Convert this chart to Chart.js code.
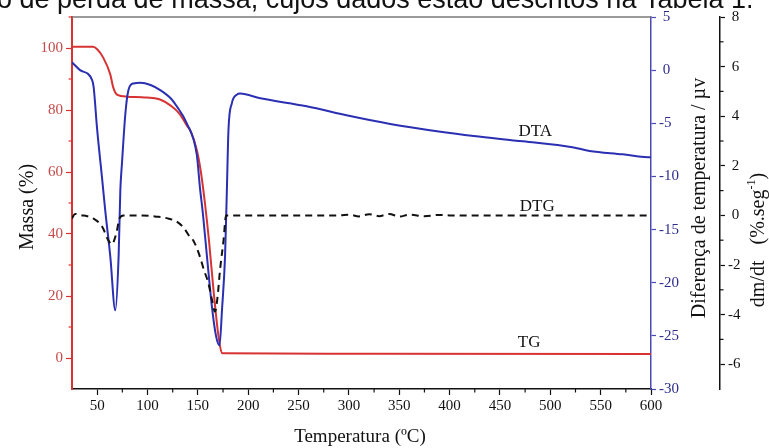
<!DOCTYPE html>
<html>
<head>
<meta charset="utf-8">
<script src="https://cdn.jsdelivr.net/npm/chart.js@4.4.1/dist/chart.umd.min.js"></script>
<style>
  html, body { margin: 0; padding: 0; background: #fff; }
  #wrap { width: 769px; height: 448px; position: relative; overflow: hidden; }
</style>
</head>
<body>
<div id="wrap"><canvas id="c" width="769" height="448"></canvas></div>
<script>
// TG - mass (%) vs temperature
var tgTemp = [25, 46, 50, 56, 63, 66, 70, 80, 99, 113, 123, 132, 139, 143, 149, 153, 157, 161, 165.5, 170.5, 174, 176, 300, 600];
var tgMass = [100.4, 100.4, 99.6, 96.9, 91.5, 87.2, 84.9, 84.3, 84.0, 83.3, 81.4, 78.7, 75, 73, 67, 60, 50, 38, 22, 7, 1.6, 1.5, 1.4, 1.3];

// DTA - temperature difference (uV)
var dtaTemp = [25, 33, 45, 46.5, 50, 55, 58, 63, 68, 71.3, 73, 74.6, 78, 81, 86, 93, 103, 113, 123, 129, 139, 149, 152, 155, 159, 164, 168, 171.5, 174, 177, 178.8, 180.4, 183.8, 188.8, 192, 212, 258, 300, 341, 391, 424, 473, 522, 539, 572, 597, 600];
var dtaVal = [0.74, 0.0, -0.93, -1.6, -5.6, -10.3, -13.2, -17.5, -22.6, -17.5, -11.3, -8.8, -4.1, -1.9, -1.25, -1.18, -1.4, -1.9, -2.65, -3.4, -5.0, -8, -11, -13.5, -17.5, -22.3, -25, -25.9, -22.5, -17.5, -11.3, -5.6, -3.1, -2.3, -2.2, -2.65, -3.4, -4.3, -5.07, -5.8, -6.2, -6.7, -7.26, -7.6, -7.92, -8.2, -8.2];

// DTG - dm/dt (%.seg-1)
var dtgTemp = [25, 28, 33, 46, 55, 61, 64.7, 66.5, 69.7, 72, 76, 95, 109, 120, 129, 136, 142, 146, 152, 156, 160.5, 164, 167, 169.5, 172, 175.5, 178, 200, 290, 300, 310, 320, 330, 340, 350, 360, 375, 390, 400, 600];
var dtgVal = [-0.12, 0.06, 0.02, -0.12, -0.46, -1.0, -1.17, -1.05, -0.6, -0.13, 0, 0, -0.05, -0.12, -0.25, -0.5, -0.86, -1.05, -1.66, -2.2, -2.74, -3.4, -3.88, -3.3, -2.2, -1.0, 0, 0, 0, 0.03, -0.04, 0.05, -0.03, 0.06, -0.05, 0.03, -0.03, 0.02, 0, 0];

// tick values
var xTicks = [50, 100, 150, 200, 250, 300, 350, 400, 450, 500, 550, 600];
var xMinor = [75, 125, 175, 225, 275, 325, 375, 425, 475, 525, 575];
var massTicks = [0, 20, 40, 60, 80, 100];
var massMinor = [10, 30, 50, 70, 90, 110];
var dtaTicks = [5, 0, -5, -10, -15, -20, -25, -30];
var dtgTicks = [8, 6, 4, 2, 0, -2, -4, -6];
var dtgMinor = [7, 5, 3, 1, -1, -3, -5];

// curve labels
var curveNames = ['DTA', 'DTG', 'TG'];
var curveAxis = ['yB', 'yK', 'yL'];
var curveT = [485, 487, 479];
var curveY = [-5.8, 0.34, 5.1];

var RED = '#d83232', BLUE = '#2b2fb2', SERIF = '"Liberation Serif", "Times New Roman", serif';

function pts(xs, ys) {
  return xs.map(function (x, i) { return { x: x, y: ys[i] }; });
}
function fixTicks(list) {
  return function (scale) { scale.ticks = list.map(function (v) { return { value: v }; }); };
}
function padPos(v) { return (v >= 0 ? ' ' : '') + v; }

var decor = {
  id: 'decor',
  afterDraw: function (chart) {
    var ctx = chart.ctx, a = chart.chartArea, s = chart.scales;
    ctx.save();

    // top frame line
    ctx.strokeStyle = '#7a7a7a';
    ctx.lineWidth = 1.5;
    ctx.beginPath(); ctx.moveTo(a.left, a.top); ctx.lineTo(a.right, a.top); ctx.stroke();

    // minor ticks
    ctx.lineWidth = 1.2;
    ctx.strokeStyle = '#111';
    xMinor.forEach(function (v) {
      var px = s.x.getPixelForValue(v);
      ctx.beginPath(); ctx.moveTo(px, a.bottom); ctx.lineTo(px, a.bottom + 3.5); ctx.stroke();
    });
    ctx.strokeStyle = RED;
    massMinor.forEach(function (v) {
      var py = s.yL.getPixelForValue(v);
      ctx.beginPath(); ctx.moveTo(a.left, py); ctx.lineTo(a.left - 3.5, py); ctx.stroke();
    });
    ctx.strokeStyle = '#111';
    dtgMinor.forEach(function (v) {
      var py = s.yK.getPixelForValue(v);
      ctx.beginPath(); ctx.moveTo(s.yK.left, py); ctx.lineTo(s.yK.left + 3.5, py); ctx.stroke();
    });

    // axis titles
    ctx.fillStyle = '#111';
    ctx.textAlign = 'center';
    ctx.textBaseline = 'middle';
    ctx.font = '19px ' + SERIF;
    ctx.fillText('Temperatura (ºC)', 360, 437);

    ctx.save();
    ctx.translate(28, 207);
    ctx.rotate(-Math.PI / 2);
    ctx.font = '20px ' + SERIF;
    ctx.fillText('Massa (%)', 0, 0);
    ctx.restore();

    ctx.save();
    ctx.translate(700, 198);
    ctx.rotate(-Math.PI / 2);
    ctx.font = '20px ' + SERIF;
    ctx.fillText('Diferença de temperatura / µv', 0, 0);
    ctx.restore();

    // dm/dt title with superscript
    ctx.save();
    ctx.translate(759, 240);
    ctx.rotate(-Math.PI / 2);
    ctx.textAlign = 'left';
    var big = '20px ' + SERIF, small = '12px ' + SERIF;
    var p0 = 'dm/dt', p1 = '(%.seg', p2 = '-1', p3 = ')', gap = 16;
    ctx.font = big;
    var w0 = ctx.measureText(p0).width, w1 = ctx.measureText(p1).width, w3 = ctx.measureText(p3).width;
    ctx.font = small; var w2 = ctx.measureText(p2).width;
    var x0 = -(w0 + gap + w1 + w2 + w3) / 2;
    ctx.font = big; ctx.fillText(p0, x0, 0);
    x0 += w0 + gap;
    ctx.fillText(p1, x0, 0);
    ctx.font = small; ctx.fillText(p2, x0 + w1, -7);
    ctx.font = big; ctx.fillText(p3, x0 + w1 + w2, 0);
    ctx.restore();

    // curve names
    ctx.font = '17px ' + SERIF;
    curveNames.forEach(function (n, i) {
      ctx.fillText(n, s.x.getPixelForValue(curveT[i]), s[curveAxis[i]].getPixelForValue(curveY[i]));
    });

    // cut-off caption line above the figure
    ctx.textAlign = 'left';
    ctx.textBaseline = 'alphabetic';
    ctx.font = '27px "Liberation Sans", Arial, sans-serif';
    ctx.fillText('o de perda de massa, cujos dados estão descritos na Tabela 1.', -3, 8);

    ctx.restore();
  }
};

new Chart(document.getElementById('c'), {
  type: 'line',
  data: {
    datasets: [
      { label: 'DTG', data: pts(dtgTemp, dtgVal), yAxisID: 'yK', borderColor: '#111', borderWidth: 2,
        borderDash: [7, 5], pointRadius: 0, cubicInterpolationMode: 'monotone', order: 0 },
      { label: 'DTA', data: pts(dtaTemp, dtaVal), yAxisID: 'yB', borderColor: BLUE, borderWidth: 2,
        pointRadius: 0, cubicInterpolationMode: 'monotone', order: 1 },
      { label: 'TG', data: pts(tgTemp, tgMass), yAxisID: 'yL', borderColor: RED, borderWidth: 2,
        pointRadius: 0, cubicInterpolationMode: 'monotone', order: 2 }
    ]
  },
  options: {
    responsive: false,
    animation: false,
    devicePixelRatio: 1,
    layout: { padding: { top: 17, left: 0, right: 0, bottom: 0 } },
    plugins: { legend: { display: false }, tooltip: { enabled: false } },
    scales: {
      x: {
        type: 'linear', min: 25, max: 600,
        afterBuildTicks: fixTicks(xTicks),
        afterFit: function (s) { s.height = 59; },
        ticks: { autoSkip: false, maxRotation: 0, padding: 2, color: '#111', font: { family: SERIF, size: 15 } },
        grid: { drawOnChartArea: false, tickLength: 6, tickColor: '#111', tickWidth: 1.2 },
        border: { color: '#111', width: 1.5 }
      },
      yL: {
        position: 'left', min: -10, max: 110,
        afterBuildTicks: fixTicks(massTicks),
        afterFit: function (s) { s.width = 72; },
        ticks: { autoSkip: false, padding: 3, color: '#c44a4a', font: { family: SERIF, size: 15 } },
        grid: { drawOnChartArea: false, tickLength: 6, tickColor: RED, tickWidth: 1.2 },
        border: { color: RED, width: 2 }
      },
      yB: {
        position: 'right', weight: 0, min: -30, max: 5,
        afterBuildTicks: fixTicks(dtaTicks),
        afterFit: function (s) { s.width = 69; },
        ticks: { autoSkip: false, padding: 3, color: '#2c2c8e', font: { family: SERIF, size: 15 }, callback: padPos },
        grid: { drawOnChartArea: false, tickLength: 5, tickColor: '#4a4ab4', tickWidth: 1.2 },
        border: { color: '#4a4ab4', width: 1.5 }
      },
      yK: {
        position: 'right', weight: 1, min: -7, max: 8,
        afterBuildTicks: fixTicks(dtgTicks),
        afterFit: function (s) { s.width = 49; },
        ticks: { autoSkip: false, padding: 3, color: '#111', font: { family: SERIF, size: 15 }, callback: padPos },
        grid: { drawOnChartArea: false, tickLength: 5, tickColor: '#111', tickWidth: 1.2 },
        border: { color: '#111', width: 1.5 }
      }
    }
  },
  plugins: [decor]
});
</script>
</body>
</html>
